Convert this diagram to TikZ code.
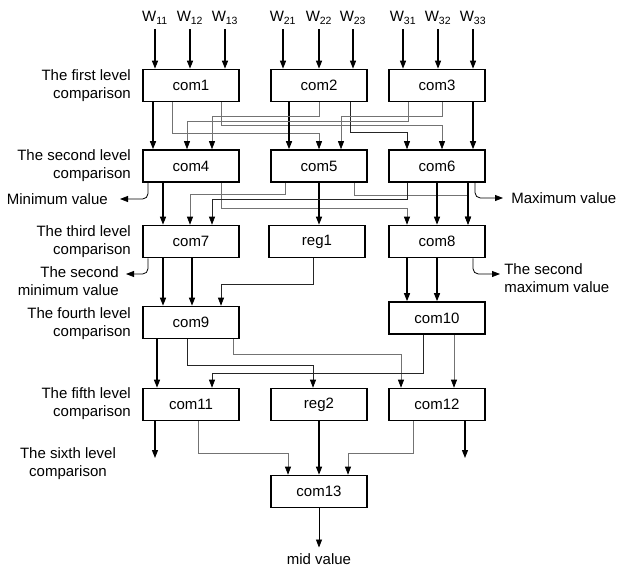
\documentclass[tikz,border=0pt]{standalone}
\usepackage{fontspec}
\setmainfont{Liberation Sans}
\usetikzlibrary{arrows.meta,calc}

\begin{document}
\begin{tikzpicture}[
    x=0.75pt, y=-0.75pt,
    every node/.style={font=\fontsize{11.25}{13.5}\selectfont},
    cmp/.style={
        draw,
        line width=1.2pt,
        minimum width=72pt,
        minimum height=24pt,
        inner sep=0pt
    },
    lvl/.style={align=right, anchor=east, inner sep=0pt},
    wire/.style={-{Triangle[length=6pt,width=4.5pt]}, line width=0.9pt},
    route/.style={
        -{Triangle[length=6pt,width=4.5pt,color=black]},
        line width=0.5pt,
        black!55
    },
    droute/.style={route, black!85},
    valarrow/.style={wire, line width=0.6pt, rounded corners=4pt}
]

    \useasboundingbox (0,0) rectangle (617,567);

    % Inputs
    \node[anchor=base] (w11) at (155,22) {W\textsubscript{11}};
    \node[anchor=base] (w12) at (190,22) {W\textsubscript{12}};
    \node[anchor=base] (w13) at (225,22) {W\textsubscript{13}};
    \node[anchor=base] (w21) at (283,22) {W\textsubscript{21}};
    \node[anchor=base] (w22) at (319,22) {W\textsubscript{22}};
    \node[anchor=base] (w23) at (353,22) {W\textsubscript{23}};
    \node[anchor=base] (w31) at (403,22) {W\textsubscript{31}};
    \node[anchor=base] (w32) at (438,22) {W\textsubscript{32}};
    \node[anchor=base] (w33) at (473,22) {W\textsubscript{33}};

    % Comparators
    \node[cmp] (com1) at (191,85.5) {com1};
    \node[cmp] (com2) at (319,85.5) {com2};
    \node[cmp] (com3) at (437,85.5) {com3};
    \node[cmp] (com4) at (191,166) {com4};
    \node[cmp] (com5) at (319,166) {com5};
    \node[cmp] (com6) at (437,166) {com6};
    \node[cmp] (com7) at (191,241.5) {com7};
    \node[cmp] (reg1) at (317,241.5) {reg1};
    \node[cmp] (com8) at (437,241.5) {com8};
    \node[cmp] (com9) at (191,322.5) {com9};
    \node[cmp] (com10) at (437,318) {com10};
    \node[cmp] (com11) at (191,404.5) {com11};
    \node[cmp] (reg2) at (319,404.5) {reg2};
    \node[cmp] (com12) at (437,404.5) {com12};
    \node[cmp] (com13) at (319,491.5) {com13};

    % Level labels
    \node[lvl] (lab1) at (131,85.5) {The first level\\comparison};
    \node[lvl] (lab2) at (131,166) {The second level\\comparison};
    \node[lvl] (lab3) at (131,241.5) {The third level\\comparison};
    \node[lvl] (lab4) at (131,324) {The fourth level\\comparison};
    \node[lvl] (lab5) at (131,403.5) {The fifth level\\comparison};
    \node[inner sep=0pt, align=center] (lab6) at (68,464) {The sixth level\\comparison};

    % Outputs
    \node[lvl] (minv) at (108,199) {Minimum value};
    \node[anchor=west, inner sep=0pt] (maxv) at (511,198) {Maximum value};
    \node[lvl] (smin) at (119,281.5) {The second\\minimum value};
    \node[anchor=west, align=left, inner sep=0pt] (smax) at (504,278)
        {The second\\maximum value};
    \node[anchor=base, inner sep=4pt] (mid) at (319,564) {mid value};
    \coordinate (end11) at (155,458);
    \coordinate (end12) at (465,458);

    % Input arrows
    \draw[wire] (w11.south) -- (w11.south |- com1.north);
    \draw[wire] (w12.south) -- (w12.south |- com1.north);
    \draw[wire] (w13.south) -- (w13.south |- com1.north);
    \draw[wire] (w21.south) -- (w21.south |- com2.north);
    \draw[wire] (w22.south) -- (w22.south |- com2.north);
    \draw[wire] (w23.south) -- (w23.south |- com2.north);
    \draw[wire] (w31.south) -- (w31.south |- com3.north);
    \draw[wire] (w32.south) -- (w32.south |- com3.north);
    \draw[wire] (w33.south) -- (w33.south |- com3.north);

    % First to second level
    \draw[wire] ($(com1.south)+(-38,0)$) -- ($(com4.north)+(-38,0)$);
    \draw[route] ($(com1.south)+(-19,0)$) -- ++(0,31.5) -| (com5.north);
    \draw[route] ($(com1.south)+(30,0)$) -- ++(0,23.5) -| ($(com6.north)+(5,0)$);
    \draw[wire] ($(com2.south)+(-30,0)$) -- ($(com5.north)+(-30,0)$);
    \draw[route] (com2.south) -- ++(0,14.5) -| ($(com4.north)+(21,0)$);
    \draw[droute] ($(com2.south)+(31,0)$) -- ++(0,30.5) -| ($(com6.north)+(-30,0)$);
    \draw[route] ($(com3.south)+(-29,0)$) -- ++(0,19.5) -| ($(com4.north)+(-4,0)$);
    \draw[route] ($(com3.south)+(5,0)$) -- ++(0,14.5) -| ($(com5.north)+(22,0)$);
    \draw[wire] ($(com3.south)+(36,0)$) -- ($(com6.north)+(36,0)$);

    % Second to third level
    \draw[valarrow] ($(com4.south)+(-43,0)$) |- ([xshift=9pt]minv.east);
    \draw[wire] ($(com4.south)+(-28,0)$) -- ($(com7.north)+(-28,0)$);
    \draw[route] ($(com4.south)+(30,0)$) -- ++(0,26) -| ($(com8.north)+(-30,0)$);
    \draw[route] ($(com5.south)+(-34,0)$) -- ++(0,12) -| ($(com7.north)+(-1,0)$);
    \draw[wire] (com5.south) -- (com5.south |- reg1.north);
    \draw[route] ($(com5.south)+(35,0)$) -- ++(0,13) -| ($(com8.north)+(31,0)$);
    \draw[droute] ($(com6.south)+(-30,0)$) -- ++(0,17) -| ($(com7.north)+(21,0)$);
    \draw[wire] (com6.south) -- (com8.north);
    \draw[wire] ($(com6.south)+(31,0)$) -- ($(com8.north)+(31,0)$);
    \draw[valarrow] ($(com6.south)+(38,0)$) |- ([xshift=-6pt]maxv.west);

    % Third to fourth level
    \draw[valarrow] ($(com7.south)+(-43,0)$) |- ([shift={(7,-7.5)}]smin.east);
    \draw[wire] ($(com7.south)+(-28,0)$) -- ($(com9.north)+(-28,0)$);
    \draw[wire] ($(com7.south)+(1,0)$) -- ($(com9.north)+(1,0)$);
    \draw[droute] ($(reg1.south)+(-4,0)$) -- ++(0,26.5) -| ($(com9.north)+(30,0)$);
    \draw[wire] ($(com8.south)+(-30,0)$) -- ($(com10.north)+(-30,0)$);
    \draw[wire] (com8.south) -- (com10.north);
    \draw[valarrow] ($(com8.south)+(36,0)$) |- ([shift={(-4,-4)}]smax.west);

    % Fourth to fifth level
    \draw[wire] ($(com9.south)+(-34,0)$) -- ($(com11.north)+(-34,0)$);
    \draw[droute] ($(com9.south)+(-4,0)$) -- ++(0,26.5) -| ($(reg2.north)+(-6,0)$);
    \draw[route] ($(com9.south)+(42,0)$) -- ++(0,15.5) -| ($(com12.north)+(-36,0)$);
    \draw[droute] ($(com10.south)+(-14,0)$) -- ++(0,39) -| ($(com11.north)+(21,0)$);
    \draw[route] ($(com10.south)+(17,0)$) -- ($(com12.north)+(17,0)$);

    % Fifth to sixth level
    \draw[wire] ($(com11.south)+(-36,0)$) -- (end11);
    \draw[route] ($(com11.south)+(7,0)$) -- ++(0,32.5) -| ($(com13.north)+(-31,0)$);
    \draw[wire] (reg2.south) -- (com13.north);
    \draw[route] ($(com12.south)+(-24,0)$) -- ++(0,32.5) -| ($(com13.north)+(29,0)$);
    \draw[wire] ($(com12.south)+(28,0)$) -- (end12);

    % Result
    \draw[valarrow] (com13.south) -- (mid.north);

\end{tikzpicture}
\end{document}
